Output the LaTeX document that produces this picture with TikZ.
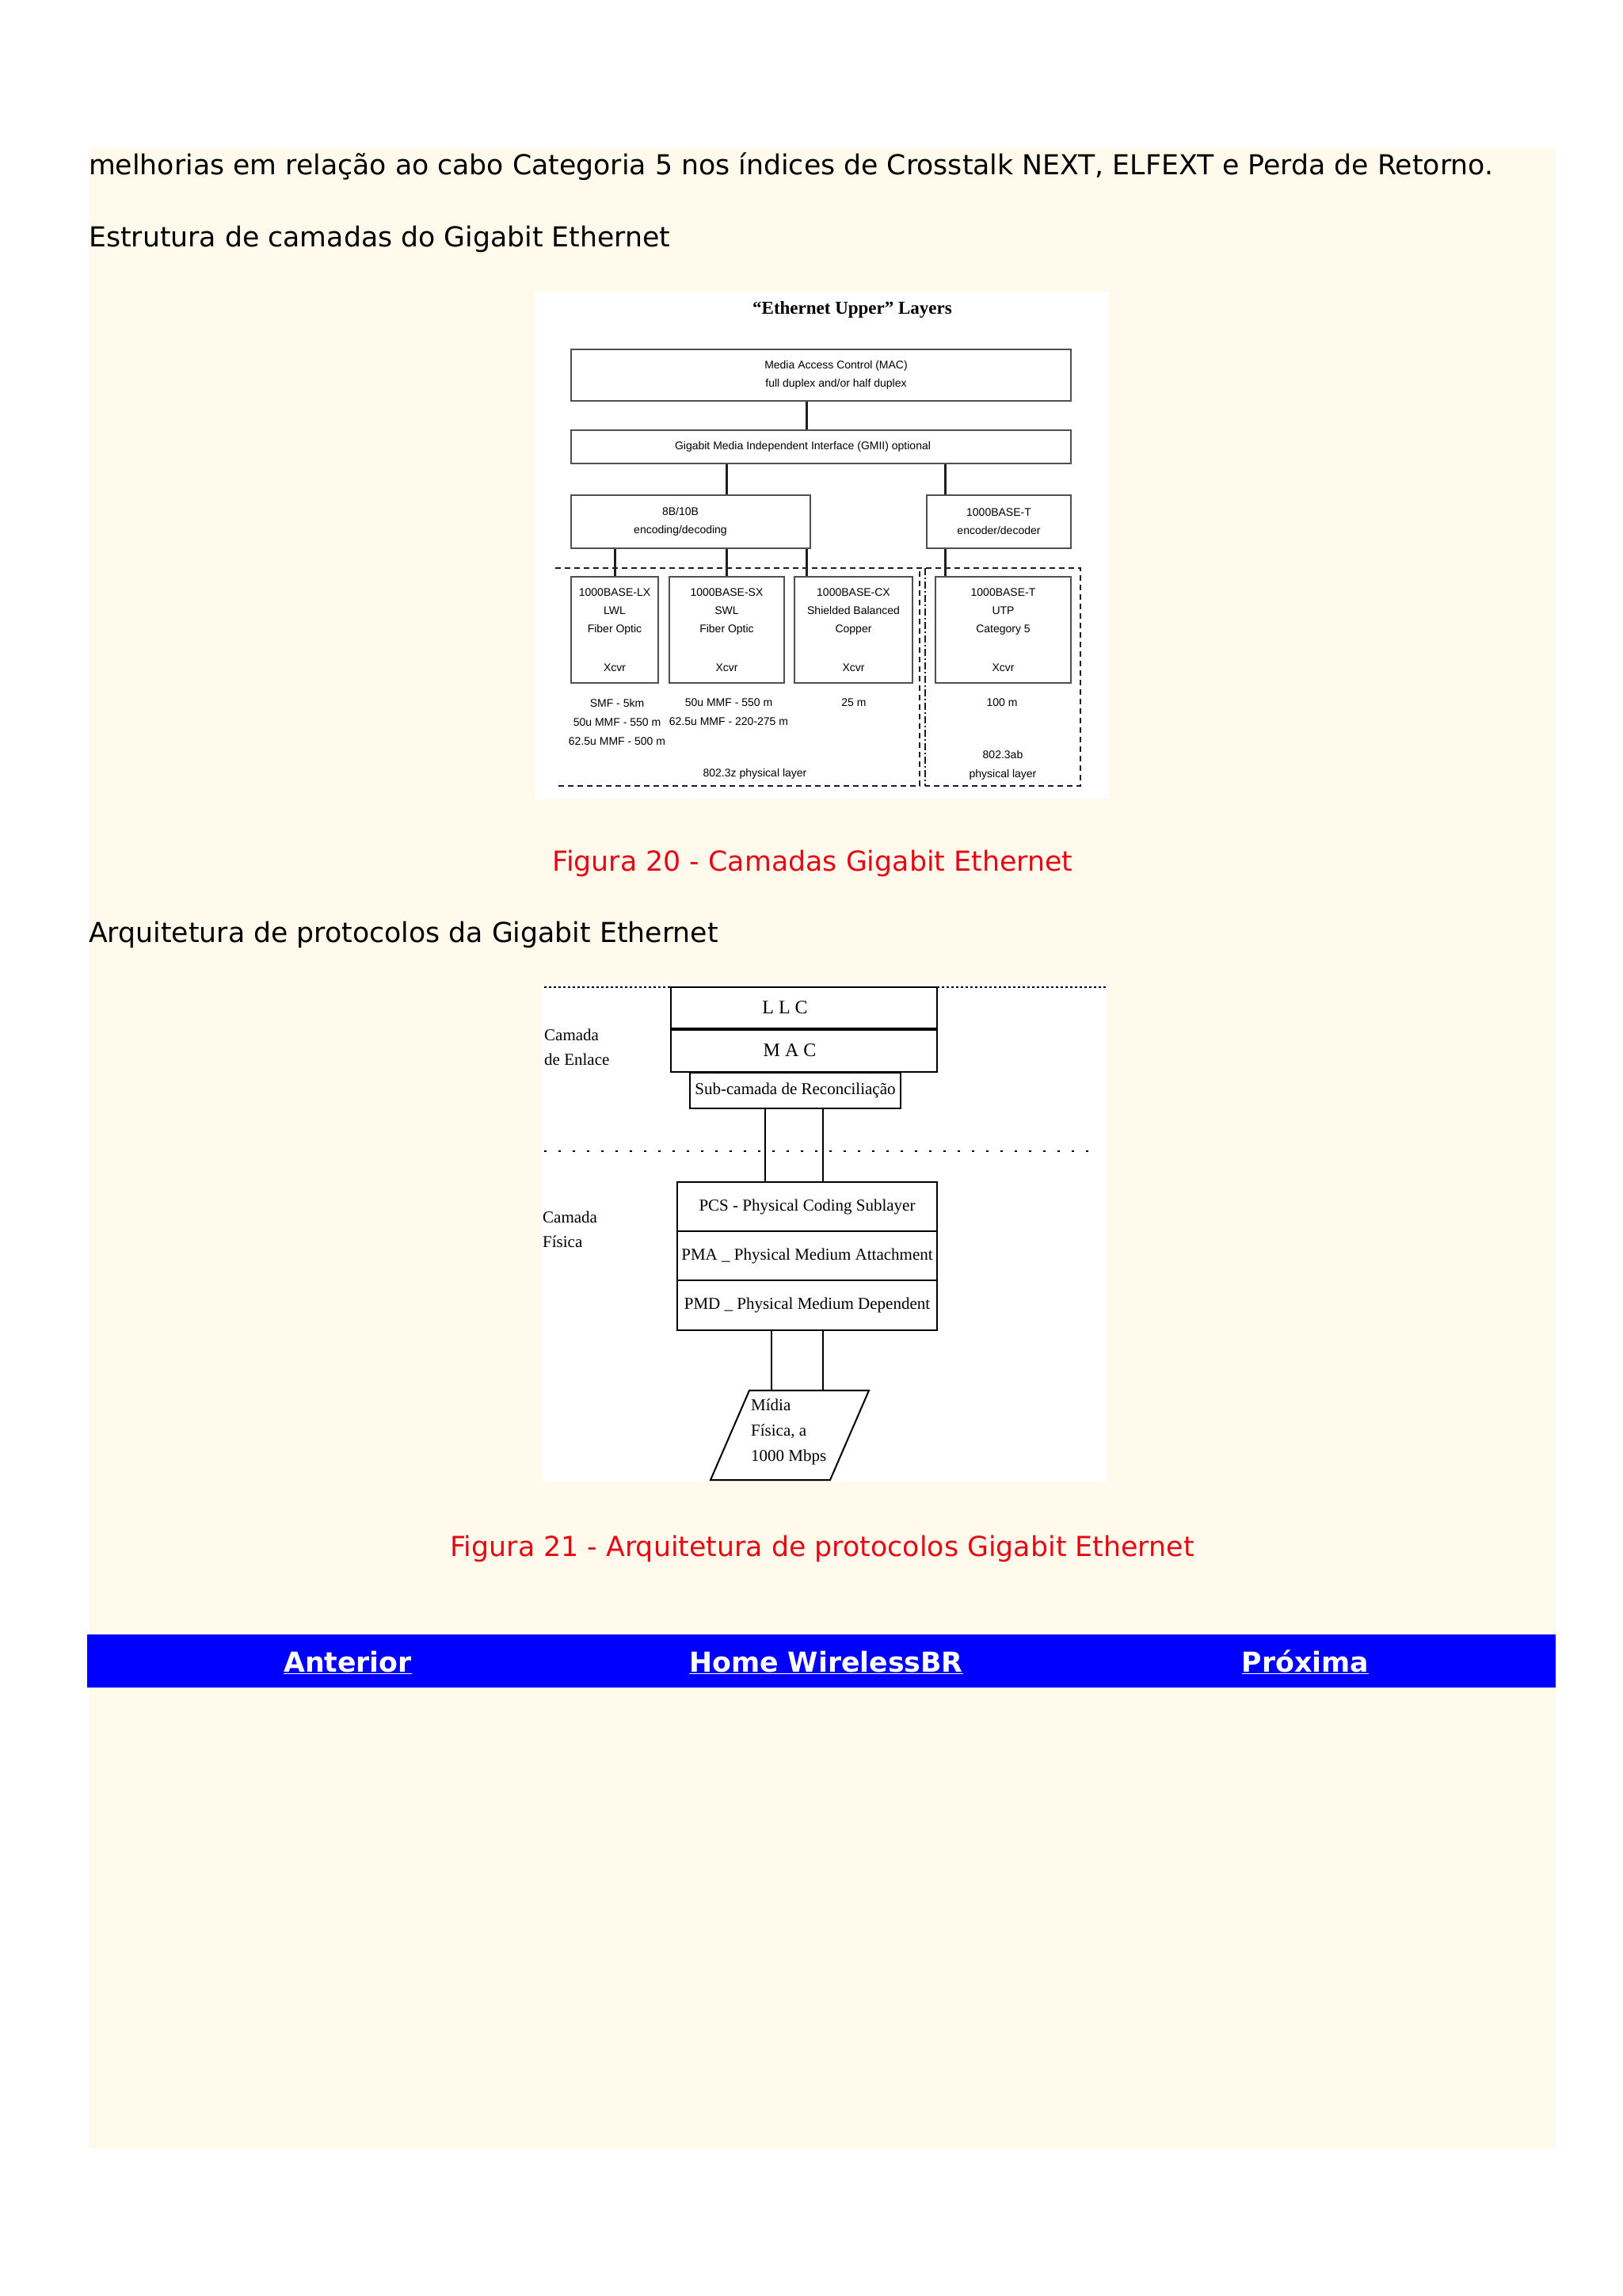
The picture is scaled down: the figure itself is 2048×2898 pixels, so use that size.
\documentclass[tikz,border=0pt]{standalone}
\usepackage{fontspec}
\setmainfont{DejaVu Sans}
\newfontfamily\figsans{Liberation Sans}
\newfontfamily\figserif{Liberation Serif}
\definecolor{pagecream}{RGB}{255,250,236}
\definecolor{capred}{RGB}{228,8,20}
\definecolor{navblue}{RGB}{0,0,255}
\definecolor{boxgray}{RGB}{80,80,80}
\definecolor{linkgray}{RGB}{30,30,30}
\tikzset{
  bodytext/.style={font=\fontsize{34.7}{40}\selectfont, anchor=base west},
  captext/.style={font=\fontsize{34.8}{40}\selectfont, anchor=base, text=capred},
  navlink/.style={font=\bfseries\fontsize{34.7}{40}\selectfont, anchor=base, text=white},
  layerbox/.style={draw=boxgray, line width=2pt, font=\figsans\fontsize{14}{23}\selectfont, align=center},
  phybox/.style={layerbox, minimum height=134pt},
  rangetext/.style={font=\figsans\fontsize{14}{24}\selectfont, align=center},
  link/.style={draw=linkgray, line width=3pt},
  zone/.style={draw=linkgray, line width=2pt, dash pattern=on 7pt off 5pt},
  protobox/.style={draw, line width=2pt, font=\figserif\fontsize{21}{26}\selectfont},
  sidetext/.style={font=\figserif\fontsize{21}{31}\selectfont, align=left, anchor=west},
  wire/.style={draw, line width=2pt}
}
\begin{document}
\begin{tikzpicture}[x=1pt, y=-1pt, every node/.style={inner sep=0pt}]
  \useasboundingbox (0,0) rectangle (2048,2898);
  \fill[white] (0,0) rectangle (2048,2898);
  \fill[pagecream] (112,187) rectangle (1964,2712);
  \fill[white] (675,368) rectangle (1400,1008);
  \fill[white] (684,1242) rectangle (1397,1870);
  \fill[navblue] (110,2063) rectangle (1964,2130);

  \node[bodytext] (intro) at (112,221) {melhorias em relação ao cabo Categoria 5 nos índices de Crosstalk NEXT, ELFEXT e Perda de Retorno.};
  \node[bodytext] (head1) at (112,311) {Estrutura de camadas do Gigabit Ethernet};
  \node[captext] (cap1) at (1026,1099) {Figura 20 - Camadas Gigabit Ethernet};
  \node[bodytext] (head2) at (112,1189) {Arquitetura de protocolos da Gigabit Ethernet};
  \node[captext] (cap2) at (1038,1964) {Figura 21 - Arquitetura de protocolos Gigabit Ethernet};
  \node[navlink] (prev) at (439,2110) {\underline{Anterior}};
  \node[navlink] (home) at (1043,2110) {\underline{Home WirelessBR}};
  \node[navlink] (next) at (1648,2110) {\underline{Próxima}};

  \node[font=\figserif\bfseries\fontsize{23}{28}\selectfont] (upper) at (1076,391) {“Ethernet Upper” Layers};
  \node[layerbox, minimum width=631pt, minimum height=65pt] (mac) at (1036.5,473.5) {\hspace*{38pt}Media Access Control (MAC)\\\hspace*{38pt}full duplex and/or half duplex};
  \node[layerbox, minimum width=631pt, minimum height=42pt] (gmii) at (1036.5,564) {Gigabit Media Independent Interface (GMII) optional\hspace*{46pt}};
  \node[layerbox, minimum width=302pt, minimum height=67pt] (enc8b) at (872,658.5) {8B/10B\hspace*{26pt}\\encoding/decoding\hspace*{26pt}};
  \node[layerbox, minimum width=182pt, minimum height=67pt] (enct) at (1261,658.5) {1000BASE-T\\encoder/decoder};
  \node[phybox, minimum width=110pt] (lx) at (776,795) {1000BASE-LX\\LWL\\Fiber Optic\\[26pt]Xcvr};
  \node[phybox, minimum width=145pt] (sx) at (917.5,795) {1000BASE-SX\\SWL\\Fiber Optic\\[26pt]Xcvr};
  \node[phybox, minimum width=149pt] (cx) at (1077.5,795) {1000BASE-CX\\Shielded Balanced\\Copper\\[26pt]Xcvr};
  \node[phybox, minimum width=171pt] (bt) at (1266.5,795) {1000BASE-T\\UTP\\Category 5\\[26pt]Xcvr};
  \node[rangetext] (lxrange) at (779,911) {SMF - 5km\\50u MMF - 550 m\\62.5u MMF - 500 m};
  \node[rangetext] (sxrange) at (920,898.5) {50u MMF - 550 m\\62.5u MMF - 220-275 m};
  \node[rangetext] (cxrange) at (1078,887) {25 m};
  \node[rangetext] (btrange) at (1265,887) {100 m};
  \node[rangetext] (zlayer) at (953,977) {802.3z physical layer};
  \node[rangetext] (ablayer) at (1266,966) {802.3ab\\physical layer};

  \coordinate (cd) at (1018,0);
  \coordinate (cu) at (1193,0);
  \draw[link] (mac.south -| cd) -- (gmii.north -| cd);
  \draw[link] (gmii.south -| sx.north) -- (enc8b.north -| sx.north);
  \draw[link] (gmii.south -| cu) -- (enct.north -| cu);
  \draw[link] (enc8b.south -| lx.north) -- (lx.north);
  \draw[link] (enc8b.south -| sx.north) -- (sx.north);
  \draw[link] (enc8b.south -| cd) -- (cx.north -| cd);
  \draw[link] (enct.south -| cu) -- (bt.north -| cu);

  \draw[zone] (701,717) -- (1364,717) -- (1364,992) -- (1168,992);
  \draw[zone] (705,992) -- (1161,992) -- (1161,717);
  \draw[draw=linkgray, line width=2pt, dash pattern=on 9pt off 3pt on 2pt off 3pt] (1168,717) -- (1168,992);

  \draw[line width=2pt, dash pattern=on 3pt off 3pt] (687,1246) -- (847,1246) (1183,1246) -- (1397,1246);
  \draw[line width=2pt, dash pattern=on 3pt off 15pt] (687,1453) -- (1387,1453);
  \node[protobox, minimum width=336pt, minimum height=52pt, font=\figserif\fontsize{24}{28}\selectfont] (llc) at (1015,1272) {L L C\hspace*{48pt}};
  \node[protobox, minimum width=336pt, minimum height=54pt, font=\figserif\fontsize{24}{28}\selectfont] (macb) at (1015,1326) {M A C\hspace*{36pt}};
  \draw[line width=4pt] (llc.south west) -- (llc.south east);
  \node[protobox, minimum width=266pt, minimum height=45pt] (sub) at (1004,1376.5) {Sub-camada de Reconciliação};
  \node[protobox, minimum width=328pt, minimum height=62pt] (pcs) at (1019,1523) {PCS - Physical Coding Sublayer};
  \node[protobox, minimum width=328pt, minimum height=62pt] (pma) at (1019,1585) {PMA \_ Physical Medium Attachment};
  \node[protobox, minimum width=328pt, minimum height=63pt] (pmd) at (1019,1647.5) {PMD \_ Physical Medium Dependent};
  \node[sidetext] (enlace) at (687,1322) {Camada\\de Enlace};
  \node[sidetext] (fisica) at (685,1552) {Camada\\Física};

  \coordinate (media) at (997,1755);
  \draw[wire] (946,1755) -- (1097,1755) -- (1048,1868) -- (897,1868) -- cycle;
  \node[sidetext, font=\figserif\fontsize{21}{32}\selectfont] (mediatext) at (948,1807) {Mídia\\Física, a\\1000 Mbps};

  \coordinate (pl) at (966,0);
  \coordinate (pr) at (1039,0);
  \coordinate (ml) at (974,0);
  \draw[wire] (sub.south -| pl) -- (pcs.north -| pl);
  \draw[wire] (sub.south -| pr) -- (pcs.north -| pr);
  \draw[wire] (pmd.south -| ml) -- (media -| ml);
  \draw[wire] (pmd.south -| pr) -- (media -| pr);
\end{tikzpicture}
\end{document}
